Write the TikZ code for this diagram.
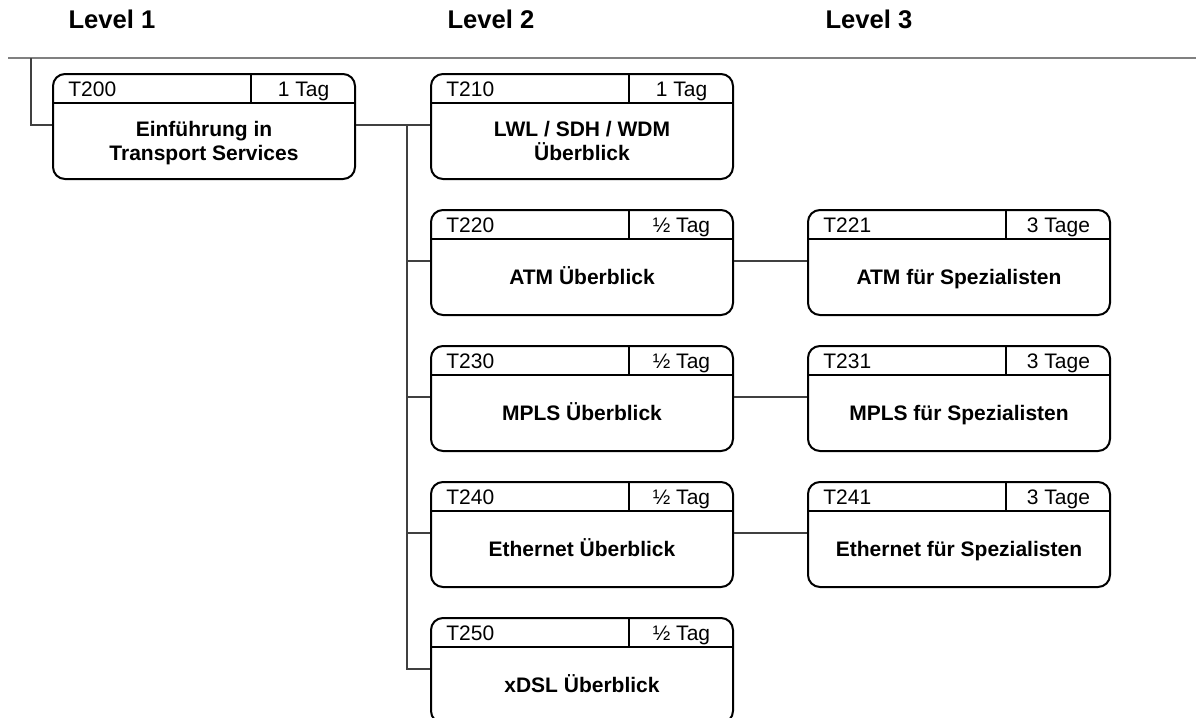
\documentclass[tikz,border=0pt]{standalone}
\usepackage{fontspec}
\setmainfont{Liberation Sans}
\usetikzlibrary{positioning}

% course box: name, north west corner, number, duration, title
\newcommand{\kurs}[5]{%
  \node[kursbox] (#1) at (#2) {};
  \draw[tabline] ([yshift=-15pt]#1.north west) -- ([yshift=-15pt]#1.north east);
  \draw[tabline] ([xshift=-52.5pt]#1.north east) -- ([xshift=-52.5pt,yshift=-15pt]#1.north east);
  \node[tabtext,anchor=base west] (#1-nr) at ([xshift=8pt,yshift=-11.5pt]#1.north west) {#3};
  \node[tabtext,anchor=base] (#1-dauer) at ([xshift=-26.25pt,yshift=-11.5pt]#1.north east) {#4};
  \node[titeltext] (#1-titel) at ([yshift=-7.5pt]#1.center) {\vphantom{Üp}#5\vphantom{p}};
  \coordinate (#1-l) at ([yshift=-26pt]#1.north west);
  \coordinate (#1-r) at ([yshift=-26pt]#1.north east);
}

\begin{document}
\begin{tikzpicture}[x=0.5pt,y=-0.5pt,
  kursbox/.style={draw,line width=1pt,rounded corners=6pt,minimum width=151pt,minimum height=52.5pt,anchor=north west,inner sep=0pt},
  tabline/.style={line width=0.8pt},
  tabtext/.style={inner sep=0pt,font=\fontsize{10.5}{12}\selectfont},
  titeltext/.style={inner sep=0pt,align=center,font=\fontsize{10.5}{12}\selectfont\bfseries},
  ebene/.style={inner sep=0pt,font=\fontsize{12.8}{15}\selectfont\bfseries},
  verbindung/.style={line width=0.6pt,black!75},
  kopflinie/.style={line width=1pt,black!50}]

\useasboundingbox (0,0) rectangle (1196,718);
\clip (0,0) rectangle (1196,718);

% header
\node[ebene,anchor=base] (level1) at (112,28) {Level 1};
\node[ebene,anchor=base] (level2) at (491,28) {Level 2};
\node[ebene,anchor=base] (level3) at (869,28) {Level 3};
\coordinate (kopf-l) at (8,58);
\coordinate (kopf-r) at (1196,58);
\draw[kopflinie] (kopf-l) -- (kopf-r);

% level 1
\kurs{T200}{52,73}{T200}{1 Tag}{Einführung in\\Transport Services}

% level 2
\kurs{T210}{430,73}{T210}{1 Tag}{LWL / SDH / WDM\\Überblick}
\kurs{T220}{430,209}{T220}{½ Tag}{ATM Überblick}
\kurs{T230}{430,345}{T230}{½ Tag}{MPLS Überblick}
\kurs{T240}{430,481}{T240}{½ Tag}{Ethernet Überblick}
\kurs{T250}{430,617}{T250}{½ Tag}{xDSL Überblick}

% level 3
\kurs{T221}{807,209}{T221}{3 Tage}{ATM für Spezialisten}
\kurs{T231}{807,345}{T231}{3 Tage}{MPLS für Spezialisten}
\kurs{T241}{807,481}{T241}{3 Tage}{Ethernet für Spezialisten}

% connectors
\coordinate (start) at (31,58);
\draw[verbindung] (start) |- (T200-l);
\draw[verbindung] (T200-r) -- (T210-l);
\coordinate (bus) at (407,125);
\draw[verbindung] (bus) |- (T220-l);
\draw[verbindung] (bus) |- (T230-l);
\draw[verbindung] (bus) |- (T240-l);
\draw[verbindung] (bus) |- (T250-l);
\draw[verbindung] (T220-r) -- (T221-l);
\draw[verbindung] (T230-r) -- (T231-l);
\draw[verbindung] (T240-r) -- (T241-l);

\end{tikzpicture}
\end{document}
